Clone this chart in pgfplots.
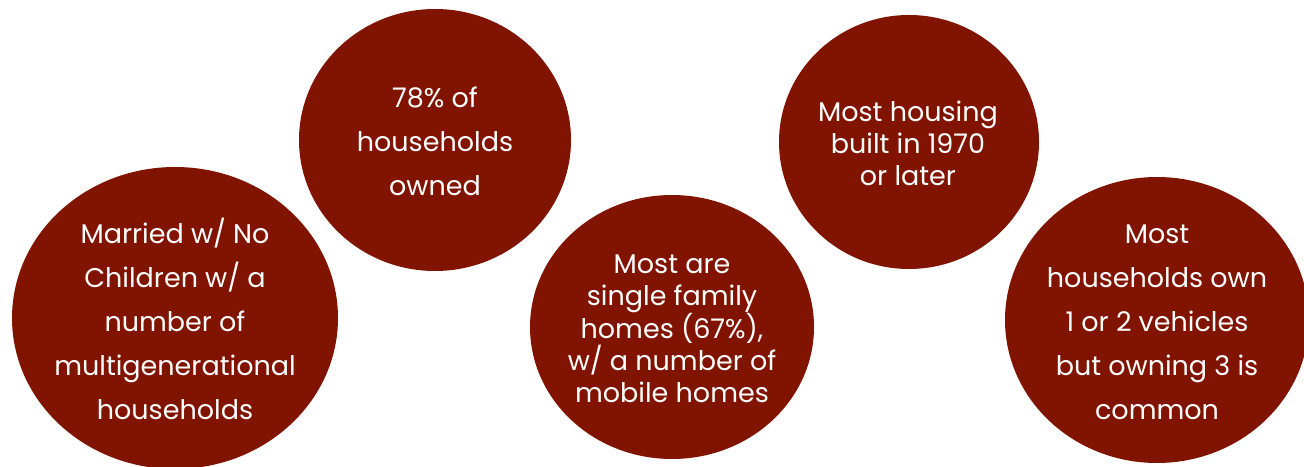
\documentclass[border=0pt]{standalone}
\usepackage{fontspec}
\setmainfont{Poppins}[Ligatures=NoCommon]
\usepackage{pgfplots}
\pgfplotsset{compat=1.18}
\usepackage{pgfplotstable}

\definecolor{brick}{RGB}{128,20,0}

% ellipse mark, radii in pt taken per point
\pgfdeclareplotmark{ell}{%
  \pgfpathellipse{\pgfpointorigin}{\pgfpoint{\rxv}{0}}{\pgfpoint{0}{\ryv}}%
  \pgfusepathqfill}

% bubble centres and radii, in pixels of the 1304x466 picture (y upwards)
\pgfplotstableread{
x    y    rx   ry
175  148  163  151
435  326  136  131
672  139  142  132
909  324  130  127
1157 146  152  143
}\bubbles

\begin{document}
\begin{tikzpicture}
\begin{axis}[
  scale only axis,
  width=1304pt, height=466pt,
  xmin=0, xmax=1304, ymin=0, ymax=466,
  hide axis,
  clip marker paths=true,
]
\addplot[scatter, only marks, mark=ell,
  scatter/use mapped color={draw=none, fill=brick},
  visualization depends on={\thisrow{rx}\as\rxv},
  visualization depends on={\thisrow{ry}\as\ryv},
] table[x=x, y=y] {\bubbles};

\tikzset{lbl/.style={text=white, align=center, inner sep=0pt}}
\node[lbl, font=\fontsize{27}{44}\selectfont] at (axis cs:175,147)
  {Married w/ No\\Children w/ a\\number of\\multigenerational\\households};
\node[lbl, font=\fontsize{27}{44}\selectfont] at (axis cs:435,325)
  {78\% of\\households\\owned};
\node[lbl, font=\fontsize{27}{32}\selectfont] at (axis cs:672,137)
  {Most are\\single family\\homes (67\%),\\w/ a number of\\mobile homes};
\node[lbl, font=\fontsize{27}{32}\selectfont] at (axis cs:908,322.5)
  {Most housing\\built in 1970\\or later};
\node[lbl, font=\fontsize{27}{44}\selectfont] at (axis cs:1157,143.5)
  {Most\\households own\\1 or 2 vehicles\\but owning 3 is\\common};
\end{axis}
\pgfresetboundingbox
\path (current axis.south west) rectangle (current axis.north east);
\end{tikzpicture}
\end{document}
